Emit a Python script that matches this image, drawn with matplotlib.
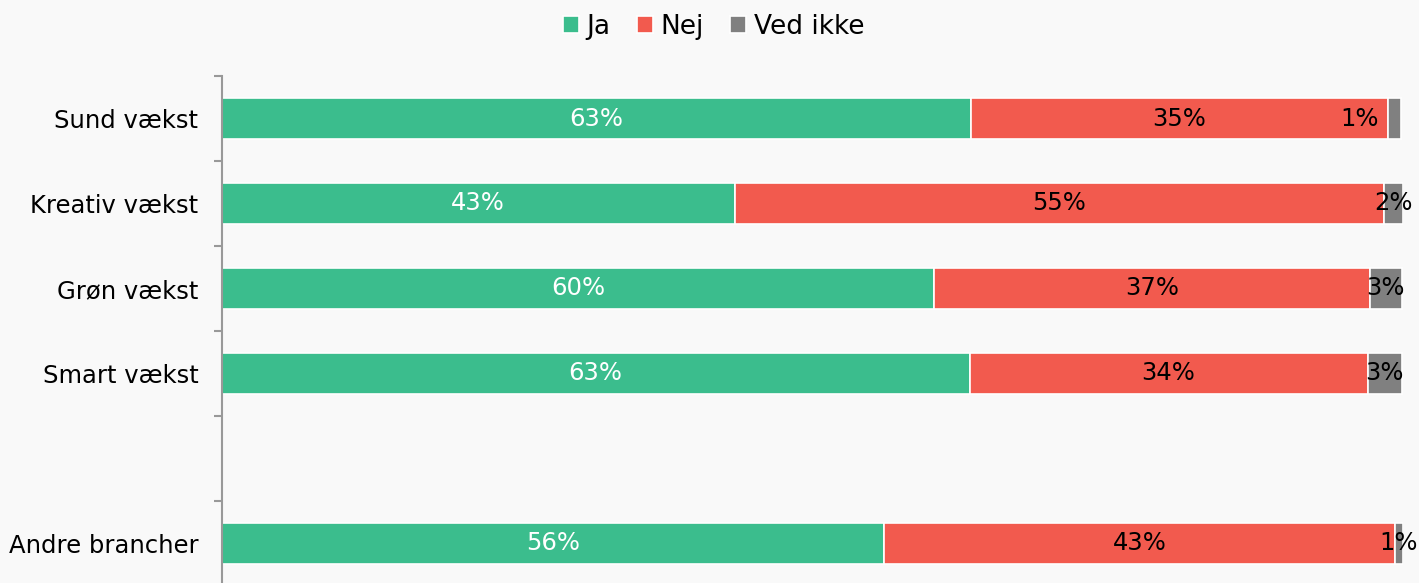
import matplotlib
matplotlib.use("Agg")
import matplotlib.pyplot as plt
import numpy as np

# Data (share of answers in %)
categories = ["Sund vækst", "Kreativ vækst", "Grøn vækst", "Smart vækst", "", "Andre brancher"]
ja = [63.4, 43.4, 60.3, 63.3, np.nan, 56.1]
nej = [35.3, 55.0, 36.9, 33.7, np.nan, 43.2]
ved_ikke = [1.1, 1.6, 2.7, 2.9, np.nan, 0.7]

series_names = ["Ja", "Nej", "Ved ikke"]
colors = ["#3bbd8d", "#f25a4e", "#808080"]
label_colors = ["white", "black", "black"]

bg = "#f9f9f9"
plt.rcParams["font.family"] = ["DejaVu Sans"]

fig = plt.figure(figsize=(14.19, 5.83), dpi=100, facecolor=bg)
ax = fig.add_axes([0.1564, -0.005, 0.8323, 0.8746])
ax.set_facecolor(bg)

y = np.arange(len(categories))
left = np.zeros(len(categories))
for vals, name, col, lcol in zip([ja, nej, ved_ikke], series_names, colors, label_colors):
    vals = np.array(vals, dtype=float)
    ax.barh(y, vals, left=left, height=0.48, color=col, edgecolor="white",
            linewidth=1.2, label=name)
    for i, v in enumerate(vals):
        if np.isnan(v):
            continue
        if name == "Ved ikke" and i == 0:
            # label pushed to the left of the thin grey segment
            ax.annotate(f"{v:.0f}%", (left[i], y[i]), xytext=(-6, 0),
                        textcoords="offset points", ha="right", va="center",
                        fontsize=17.5, color=lcol)
        else:
            ax.text(left[i] + v / 2, y[i], f"{v:.0f}%", ha="center", va="center",
                    fontsize=17.5, color=lcol)
    left = left + np.nan_to_num(vals)

ax.set_xlim(0, 100)
ax.set_ylim(len(categories) - 0.5, -0.5)
ax.set_xticks([])

# category boundaries as major ticks, labels on minor ticks at centres
ax.set_yticks(np.arange(len(categories) + 1) - 0.5)
ax.set_yticklabels([])
ax.set_yticks(y, minor=True)
ax.set_yticklabels(categories, minor=True, fontsize=17.5)
ax.tick_params(axis="y", which="major", length=6, width=1.5, color="#999999")
ax.tick_params(axis="y", which="minor", length=0, pad=17)

for s in ["top", "right", "bottom"]:
    ax.spines[s].set_visible(False)
ax.spines["left"].set_color("#999999")
ax.spines["left"].set_linewidth(1.5)

fig.legend(loc="upper center", bbox_to_anchor=(0.503, 1.017), ncol=3, frameon=False,
           fontsize=19, handlelength=0.6, handleheight=0.6, handletextpad=0.3,
           columnspacing=1.0)

fig.savefig("out.png", dpi=100, facecolor=bg)
